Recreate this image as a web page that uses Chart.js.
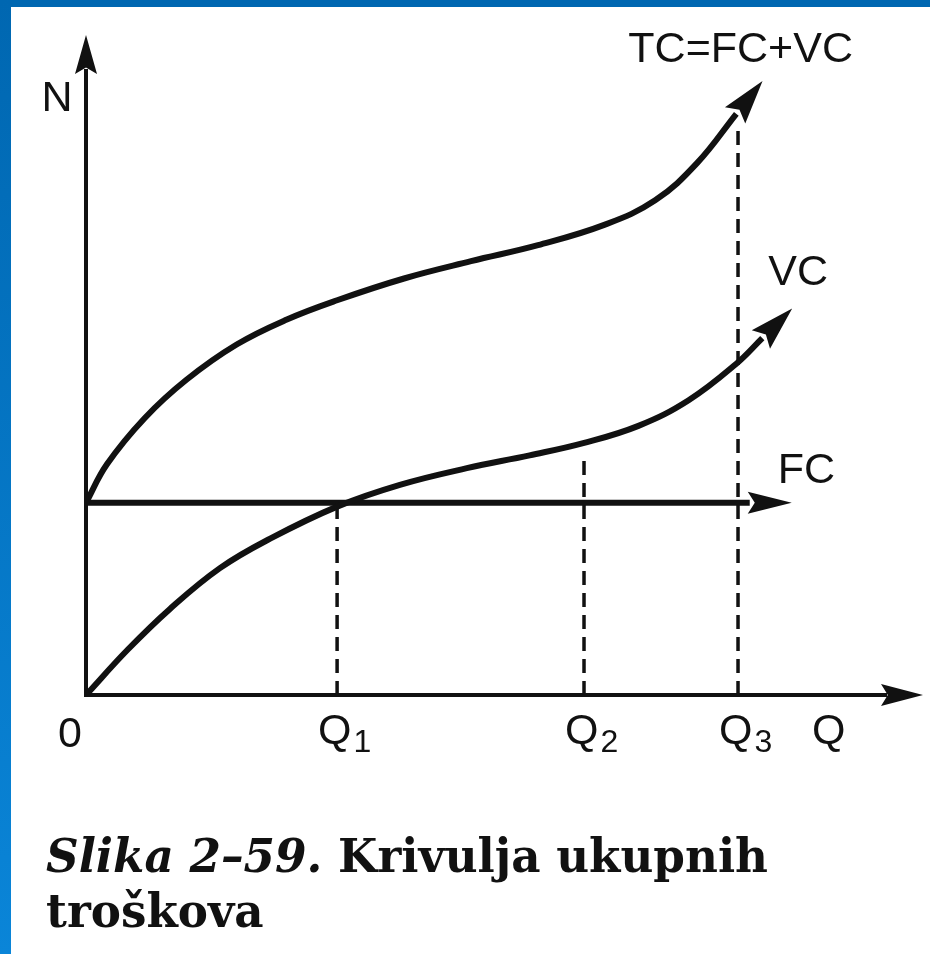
<!DOCTYPE html>
<html>
<head>
<meta charset="utf-8">
<script src="https://cdn.jsdelivr.net/npm/chart.js@4.4.1/dist/chart.umd.min.js"></script>
<style>
  html, body { margin: 0; padding: 0; background: #fff; }
  body { width: 930px; height: 954px; position: relative; overflow: hidden; }
  #topBar { position: absolute; left: 0; top: 0; width: 930px; height: 7px; background: #0067b1; }
  #leftBar { position: absolute; left: 0; top: 0; width: 11px; height: 954px; background: linear-gradient(#0067b1, #0a85d8); }
  #chart { position: absolute; left: 0; top: 0; }
  #caption { position: absolute; left: 46px; top: 830px; font-family: "DejaVu Serif", serif; font-weight: bold;
             line-height: 55px; color: #111; white-space: nowrap; transform-origin: 0 0; }
</style>
</head>
<body>
<div id="topBar"></div>
<div id="leftBar"></div>
<canvas id="chart" width="930" height="954"></canvas>
<div id="caption"><span id="line1"><i>Slika 2–59.</i> Krivulja ukupnih</span><br>troškova</div>
<script>
// osi: Q (kolicina) vodoravno, N (troskovi) okomito
const xMax = 10;
const yMax = 10.3;

// ukupni troskovi TC
const tcX = [0, 0.25, 0.7, 1.2, 1.8, 2.4, 3.0, 3.8, 4.6, 5.4, 6.2, 6.8, 7.3, 7.77];
const tcY = [3.0, 3.6, 4.32, 4.92, 5.47, 5.86, 6.16, 6.5, 6.77, 7.02, 7.34, 7.72, 8.3, 9.07];
// varijabilni troskovi VC
const vcX = [0, 0.5, 1.0, 1.6, 2.2, 3.0, 3.75, 4.55, 5.3, 5.94, 6.6, 7.2, 7.77, 8.08];
const vcY = [0, 0.71, 1.34, 1.98, 2.44, 2.94, 3.28, 3.54, 3.74, 3.93, 4.2, 4.6, 5.17, 5.57];
// fiksni troskovi FC
const fcX = [0, 7.93];
const fcY = [3, 3];

// oznake na osi Q i visina isprekidanih linija
const tickValues = [0, 3.0, 5.95, 7.79];
const tickLabels = ['0', 'Q1', 'Q2', 'Q3'];
const dashTops = [3.0, 3.75, 8.82];

const ink = '#111';
const labelFont = '43px "Liberation Sans", Arial, sans-serif';
const subFont = '32px "Liberation Sans", Arial, sans-serif';

const toPoints = (xs, ys) => xs.map((x, i) => ({ x: x, y: ys[i] }));

const curve = (label, xs, ys, arrowLen, arrowHalf) => ({
  label: label,
  data: toPoints(xs, ys),
  borderColor: ink,
  borderWidth: 6,
  borderCapStyle: 'butt',
  pointRadius: 0,
  tension: 0.4,
  fill: false,
  arrowLen: arrowLen,
  arrowHalf: arrowHalf
});

const dashed = tickValues.slice(1).map((q, i) => ({
  label: tickLabels[i + 1],
  data: [{ x: q, y: 0 }, { x: q, y: dashTops[i] }],
  borderColor: ink,
  borderWidth: 3.5,
  borderDash: [14, 8],
  pointRadius: 0,
  fill: false
}));

// vrh strelice, (x, y) je sredina baze
function arrowHead(ctx, x, y, dx, dy, len, half) {
  const d = Math.hypot(dx, dy);
  const ux = dx / d, uy = dy / d;
  const px = -uy, py = ux;
  ctx.beginPath();
  ctx.moveTo(x + ux * len, y + uy * len);
  ctx.lineTo(x + px * half - ux * 2, y + py * half - uy * 2);
  ctx.lineTo(x + ux * len * 0.12, y + uy * len * 0.12);
  ctx.lineTo(x - px * half - ux * 2, y - py * half - uy * 2);
  ctx.closePath();
  ctx.fill();
}

const axesPlugin = {
  id: 'axes',
  beforeDatasetsDraw(chart) {
    const { ctx, scales: { x, y } } = chart;
    const x0 = x.getPixelForValue(0), y0 = y.getPixelForValue(0);
    const xEnd = x.getPixelForValue(xMax), yEnd = y.getPixelForValue(yMax);
    ctx.save();
    ctx.strokeStyle = ink;
    ctx.fillStyle = ink;
    ctx.lineWidth = 4;
    ctx.beginPath();
    ctx.moveTo(x0, y0 + 2);
    ctx.lineTo(x0, yEnd + 34);
    ctx.moveTo(x0 - 2, y0);
    ctx.lineTo(xEnd - 36, y0);
    ctx.stroke();
    arrowHead(ctx, x0, yEnd + 37, 0, -1, 37, 11);
    arrowHead(ctx, xEnd - 40, y0, 1, 0, 40, 11);
    ctx.restore();
  }
};

const arrowPlugin = {
  id: 'arrows',
  afterDatasetsDraw(chart) {
    const ctx = chart.ctx;
    ctx.save();
    ctx.fillStyle = ink;
    chart.data.datasets.forEach((ds, i) => {
      if (!ds.arrowLen) return;
      const pts = chart.getDatasetMeta(i).data;
      const last = pts[pts.length - 1], prev = pts[pts.length - 2];
      let dx = last.x - (last.cp1x ?? prev.x), dy = last.y - (last.cp1y ?? prev.y);
      if (Math.hypot(dx, dy) < 0.5) { dx = last.x - prev.x; dy = last.y - prev.y; }
      arrowHead(ctx, last.x, last.y, dx, dy, ds.arrowLen, ds.arrowHalf);
    });
    ctx.restore();
  }
};

const labelPlugin = {
  id: 'labels',
  afterDraw(chart) {
    const { ctx, scales: { x, y } } = chart;
    const x0 = x.getPixelForValue(0), y0 = y.getPixelForValue(0);
    const xEnd = x.getPixelForValue(xMax), yEnd = y.getPixelForValue(yMax);
    ctx.save();
    ctx.fillStyle = ink;
    ctx.textBaseline = 'alphabetic';
    ctx.font = labelFont;

    tickValues.forEach((v, i) => {
      const px = x.getPixelForValue(v);
      const name = tickLabels[i];
      if (name.length === 1) {
        ctx.textAlign = 'center';
        ctx.font = labelFont;
        ctx.fillText(name, px - 16, y0 + 52);
      } else {
        ctx.textAlign = 'left';
        ctx.font = labelFont;
        ctx.fillText(name[0], px - 19, y0 + 49);
        const w = ctx.measureText(name[0]).width;
        ctx.font = subFont;
        ctx.fillText(name.slice(1), px - 19 + w + 2, y0 + 57);
      }
    });

    ctx.font = labelFont;
    ctx.textAlign = 'left';
    ctx.fillText('Q', xEnd - 111, y0 + 49);
    ctx.textAlign = 'center';
    ctx.fillText('N', x0 - 29, yEnd + 76);

    // nazivi krivulja uz kraj svake krivulje
    const endOf = (i) => { const d = chart.getDatasetMeta(i).data; return d[d.length - 1]; };
    const tc = endOf(0), vc = endOf(1), fc = endOf(2);
    ctx.textAlign = 'left';
    ctx.fillText('TC=FC+VC', tc.x - 108, tc.y - 52);
    ctx.fillText('VC', vc.x + 6, vc.y - 53);
    ctx.fillText('FC', fc.x + 28, fc.y - 20);
    ctx.restore();
  }
};

new Chart(document.getElementById('chart').getContext('2d'), {
  type: 'line',
  data: {
    datasets: [
      curve('TC=FC+VC', tcX, tcY, 42, 13),
      curve('VC', vcX, vcY, 42, 13),
      curve('FC', fcX, fcY, 42, 11),
      ...dashed
    ]
  },
  options: {
    responsive: false,
    animation: false,
    events: [],
    layout: { padding: { left: 86, top: 35, right: 7, bottom: 259 } },
    plugins: { legend: { display: false }, tooltip: { enabled: false } },
    scales: {
      x: { type: 'linear', min: 0, max: xMax, display: false },
      y: { type: 'linear', min: 0, max: yMax, display: false }
    }
  },
  plugins: [axesPlugin, arrowPlugin, labelPlugin]
});

// potpis slike: velicina fonta prema sirini prvog retka
const caption = document.getElementById('caption');
const fs = 47;
caption.style.fontSize = fs + 'px';
const w = document.getElementById('line1').getBoundingClientRect().width;
caption.style.transform = 'scaleX(' + (722 / w) + ')';
caption.style.top = (872 - ((55 - 1.164 * fs) / 2 + 0.928 * fs)) + 'px';
</script>
</body>
</html>
